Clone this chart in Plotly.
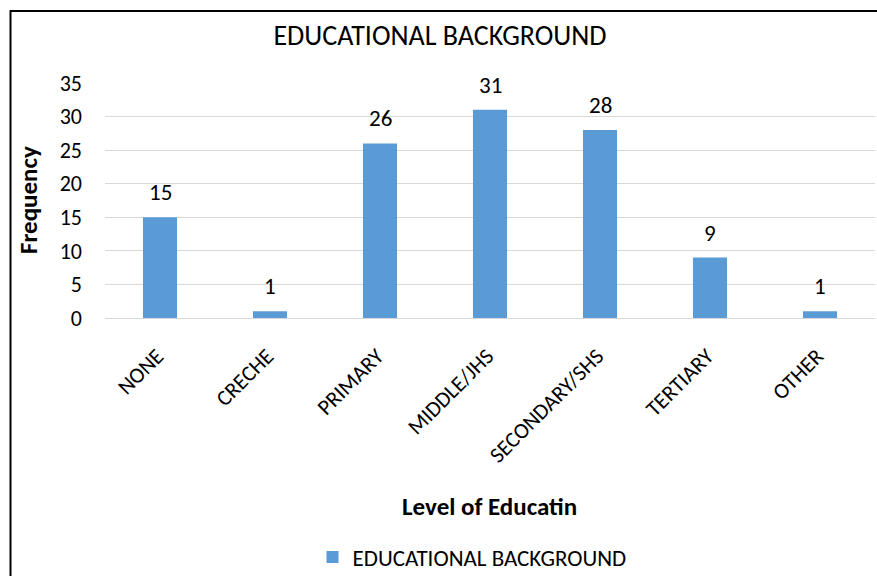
import plotly.graph_objects as go

categories = ["NONE", "CRECHE", "PRIMARY", "MIDDLE/JHS", "SECONDARY/SHS", "TERTIARY", "OTHER"]
values = [15, 1, 26, 31, 28, 9, 1]
y_ticks = [0, 5, 10, 15, 20, 25, 30, 35]
series_name = "EDUCATIONAL BACKGROUND"
chart_title = "EDUCATIONAL BACKGROUND"
x_title = "Level of Educatin"
y_title = "Frequency"

FONT = "Carlito, Calibri, Lato, sans-serif"
BAR = "#5B9BD5"
GRID = "#D9D9D9"

W, H = 877, 576
L, R, T, B = 105, 2, 83, 258

fig = go.Figure()
fig.add_trace(go.Bar(
    x=categories, y=values, name=series_name,
    marker=dict(color=BAR, line=dict(width=0)),
    width=0.31, showlegend=True,
))

for c, v in zip(categories, values):
    fig.add_annotation(x=c, y=v, xref="x", yref="y", text=str(v), showarrow=False,
                       yanchor="bottom", yshift=9, font=dict(family=FONT, size=23, color="#000"))

pw = W - L - R
ph = H - T - B
def px_x(p):
    return (p - L) / pw
def px_y(p):
    return (H - B - p) / ph

fig.add_annotation(x=px_x(489), y=px_y(506), xref="paper", yref="paper", text="<b>" + x_title + "</b>",
                   showarrow=False, xanchor="center", yanchor="middle",
                   font=dict(family=FONT, size=25, color="#000"))
fig.add_annotation(x=px_x(28), y=px_y(200), xref="paper", yref="paper", text="<b>" + y_title + "</b>",
                   showarrow=False, xanchor="center", yanchor="middle", textangle=-90,
                   font=dict(family=FONT, size=25, color="#000"))

fig.add_shape(type="rect", xref="paper", yref="paper",
              x0=px_x(10.5), y0=px_y(600), x1=px_x(900), y1=px_y(11),
              line=dict(color="#000", width=2), fillcolor="rgba(0,0,0,0)", layer="above")

fig.update_layout(
    width=W, height=H,
    margin=dict(l=L, r=R, t=T, b=B, autoexpand=False),
    paper_bgcolor="white", plot_bgcolor="white",
    font=dict(family=FONT, size=22, color="#000"),
    title=dict(text=chart_title, x=440 / W, xanchor="center", y=1 - 35 / H, yanchor="middle",
               font=dict(family=FONT, size=28, color="#000")),
    showlegend=True,
    legend=dict(orientation="h", x=px_x(472), xanchor="center", y=px_y(557), yanchor="middle",
                font=dict(family=FONT, size=23, color="#000"), bgcolor="rgba(0,0,0,0)"),
    bargap=0.69,
)
fig.update_xaxes(showgrid=False, showline=False, tickangle=-45, ticks="",
                 tickfont=dict(family=FONT, size=22, color="#000"),
                 ticklabelstandoff=20, ticklabelshift=-3)
fig.update_yaxes(range=[0, 35], tickvals=y_ticks, showgrid=True, gridcolor=GRID, gridwidth=1,
                 zeroline=True, zerolinecolor=GRID, zerolinewidth=1, showline=False, ticks="",
                 tickfont=dict(family=FONT, size=22, color="#000"), ticklabelstandoff=22)

fig.write_html("out.html")
